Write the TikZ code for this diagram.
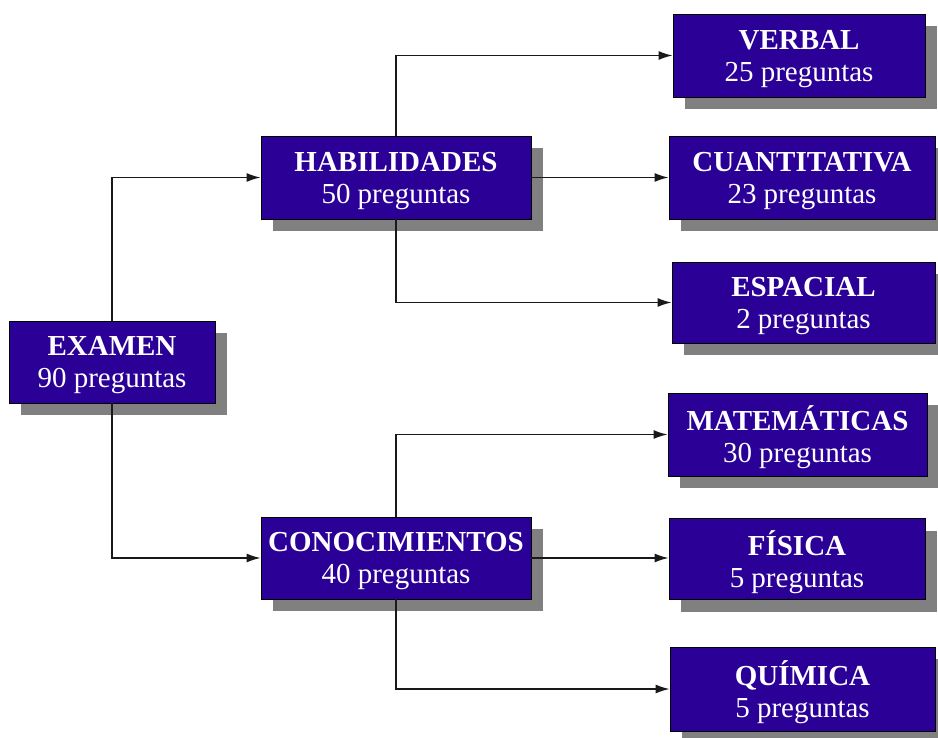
\documentclass[tikz,border=0pt]{standalone}
\usepackage{fontspec}
\setmainfont{Liberation Serif}
\usetikzlibrary{arrows.meta,shadows}
\definecolor{boxblue}{RGB}{42,0,150}
\definecolor{shadowgray}{RGB}{128,128,128}
\definecolor{linegray}{RGB}{25,25,25}
\begin{document}
\begin{tikzpicture}[x=1pt,y=-1pt,
  box/.style={draw=black, line width=0.8pt, fill=boxblue, text=white, align=center,
    inner sep=0pt, text depth=-4pt, font=\fontsize{29}{32}\selectfont,
    drop shadow={shadow xshift=12pt, shadow yshift=-12pt, fill=shadowgray, opacity=1, draw=none}},
  arr/.style={draw=linegray, line width=1.6pt, -{Latex[length=14pt,width=9pt]}}]
\useasboundingbox (0,0) rectangle (938,738);
\node[box, minimum width=206pt, minimum height=82pt] (ex) at (112,362) {\textbf{EXAMEN}\\90 preguntas};
\node[box, minimum width=270pt, minimum height=83pt] (hab) at (396,177.5) {\textbf{HABILIDADES}\\50 preguntas};
\node[box, minimum width=270pt, minimum height=82pt] (con) at (396,558) {\textbf{CONOCIMIENTOS}\\40 preguntas};
\node[box, minimum width=252pt, minimum height=83pt] (ver) at (799,55.5) {\textbf{VERBAL}\\25 preguntas};
\node[box, minimum width=266pt, minimum height=83pt] (cua) at (802,177.5) {\textbf{CUANTITATIVA}\\23 preguntas};
\node[box, minimum width=263pt, minimum height=81pt] (esp) at (803.5,302.5) {\textbf{ESPACIAL}\\2 preguntas};
\node[box, minimum width=259pt, minimum height=83pt] (mat) at (797.5,434.5) {\textbf{MATEMÁTICAS}\\30 preguntas};
\node[box, minimum width=256pt, minimum height=81pt] (fis) at (797,559) {\textbf{FÍSICA}\\5 preguntas};
\node[box, minimum width=265pt, minimum height=84pt] (qui) at (802.5,689) {\textbf{QUÍMICA}\\5 preguntas};
\draw[arr] (ex.north) |- (hab.west);
\draw[arr] (ex.south) |- (con.west);
\draw[arr] (hab.north) |- (ver.west);
\draw[arr] (hab.east) -- (cua.west);
\draw[arr] (hab.south) |- (esp.west);
\draw[arr] (con.north) |- (mat.west);
\draw[arr] (con.east) -- (con.east -| fis.west);
\draw[arr] (con.south) |- (qui.west);
\end{tikzpicture}
\end{document}
